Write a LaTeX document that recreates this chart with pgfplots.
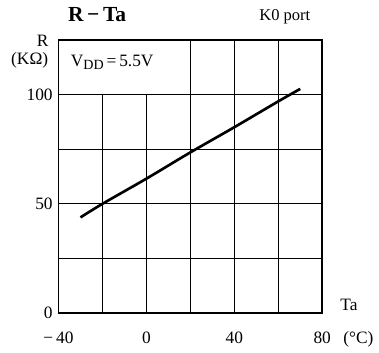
\documentclass[border=0pt]{standalone}
\usepackage{fontspec}
\setmainfont{Liberation Serif}
\usepackage{pgfplots}
\pgfplotsset{compat=1.18}
\begin{document}
\begin{tikzpicture}
\begin{axis}[
  scale only axis,
  width=159.6pt, height=165.6pt,
  xmin=-40, xmax=80, ymin=0, ymax=125,
  xtick={-40,0,40,80},
  xticklabels={−\,40,0,40,80},
  minor xtick={-20,20,60},
  ytick={0,50,100},
  minor ytick={25,75,125},
  grid=both,
  major grid style={black, line width=0.6pt},
  minor grid style={black, line width=0.6pt},
  major tick length=0pt, minor tick length=0pt,
  axis line style={black, line width=1.2pt},
  tick label style={font=\fontsize{10.5}{12}\selectfont},
  /pgf/number format/assume math mode=true,
  xticklabel style={yshift=-8pt},
  clip=false,
]
\fill[white] (axis cs:-40,100) rectangle (axis cs:20,125);
\draw[line width=0.6pt] (axis cs:20,100) -- (axis cs:20,125);
\draw[line width=0.6pt] (axis cs:-40,100) -- (axis cs:80,100);
\draw[line width=1.2pt] (axis cs:-40,0) -- (axis cs:-40,125) -- (axis cs:80,125);
\addplot[black, line width=1.6pt, smooth] coordinates {
  (-30,43.8) (-20,50) (0,61.5) (20,73.5) (40,85) (60,96.8) (70,102.5)
};
\node[anchor=west, font=\fontsize{10.5}{12}\selectfont] at (axis cs:-37,114.5) {V\raisebox{-0.35ex}{\fontsize{8.5}{10}\selectfont DD}\,=\,5.5V};
\node[font=\bfseries\fontsize{13}{15}\selectfont] at (axis cs:-22.4,136.5) {R\,−\,Ta};
\node[font=\fontsize{10}{12}\selectfont] at (axis cs:63,135.5) {K0 port};
\node[font=\fontsize{10.5}{12}\selectfont] at (axis cs:-47.2,124.5) {R};
\node[font=\fontsize{10.5}{12}\selectfont] at (axis cs:-53.1,115.5) {(KΩ)};
\node[font=\fontsize{10.5}{12}\selectfont] at (axis cs:92.2,3.7) {Ta};
\node[font=\fontsize{10.5}{12}\selectfont] at (axis cs:96.5,-12) {(°C)};
\coordinate (O) at (rel axis cs:0,0);
\end{axis}
\path (O) ++(-35.4pt,-24pt) rectangle ++(227.4pt,213.6pt);
\end{tikzpicture}
\end{document}
